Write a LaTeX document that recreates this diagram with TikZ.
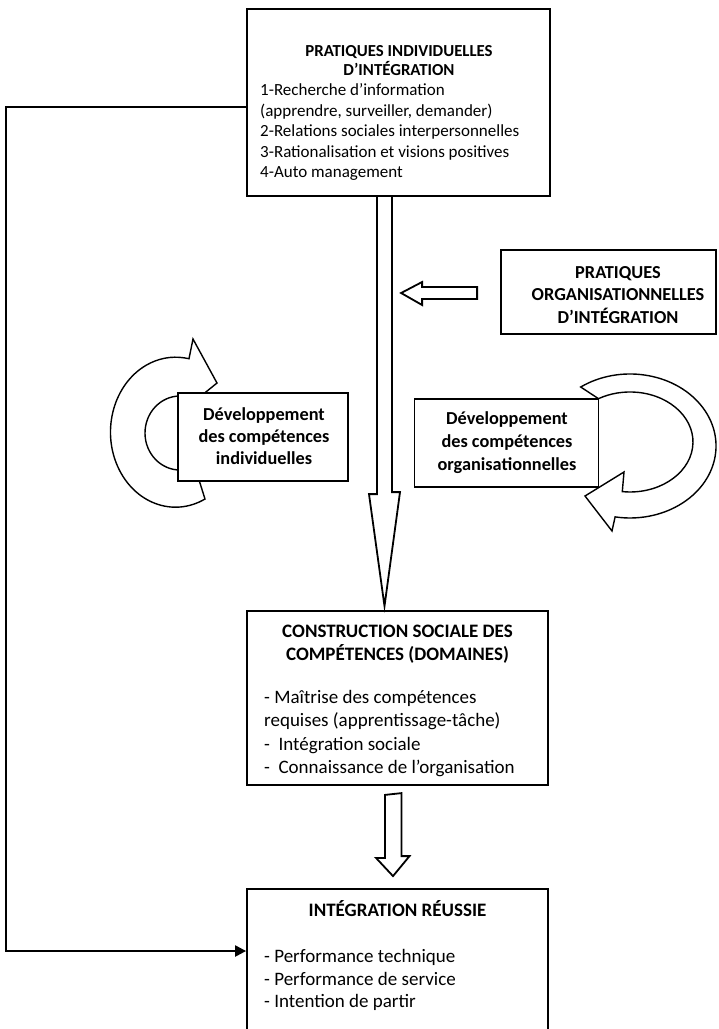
\documentclass[tikz,border=0pt]{standalone}
\usepackage{fontspec}
\setmainfont{Carlito}
\usetikzlibrary{arrows.meta,calc}
\begin{document}
\begin{tikzpicture}[x=1pt,y=-1pt,
  box/.style={draw, line width=1.8pt, fill=white, inner sep=0pt},
  block/.style={draw, line width=1.8pt, fill=white, line join=miter},
  circ/.style={draw, line width=1.4pt, fill=white, line join=miter},
  conn/.style={line width=2.2pt, -{Triangle[length=11pt,width=11pt]}},
  ttlA/.style={font=\bfseries\fontsize{16.8}{19}\selectfont, inner sep=0pt, anchor=base},
  bodyA/.style={font=\fontsize{17}{20.5}\selectfont, inner sep=0pt, anchor=base west},
  ttlB/.style={font=\bfseries\fontsize{18.3}{22}\selectfont, inner sep=0pt, anchor=base},
  ttlC/.style={font=\bfseries\fontsize{19}{23}\selectfont, inner sep=0pt, anchor=base},
  bodyC/.style={font=\fontsize{19}{23}\selectfont, inner sep=0pt, anchor=base west}]
\useasboundingbox (0,0) rectangle (719,1029);

% top box
\node[box, line width=2.2pt, minimum width=303pt, minimum height=187pt] (pi) at (398.5,102.5) {};
\node[ttlA] (pit1) at (399,56.5) {PRATIQUES INDIVIDUELLES};
\node[ttlA] (pit2) at (399,75) {D’INTÉGRATION};
\node[bodyA] (pib1) at (260,95.5) {1-Recherche d’information};
\node[bodyA] (pib2) at (260,116) {(apprendre, surveiller, demander)};
\node[bodyA] (pib3) at (260,136.5) {2-Relations sociales interpersonnelles};
\node[bodyA] (pib4) at (260,157) {3-Rationalisation et visions positives};
\node[bodyA] (pib5) at (260,177.5) {4-Auto management};

% organisational practices box
\node[box, minimum width=215pt, minimum height=84pt] (org) at (608.5,292) {};
\node[ttlB] (orgt1) at (618,278) {PRATIQUES};
\node[ttlB] (orgt2) at (618,300.5) {ORGANISATIONNELLES};
\node[ttlB] (orgt3) at (618,323.5) {D’INTÉGRATION};

% construction box
\node[box, minimum width=301pt, minimum height=174pt] (cs) at (397.5,698) {};
\node[ttlC] (cst1) at (397.5,637.5) {CONSTRUCTION SOCIALE DES};
\node[ttlC] (cst2) at (397.5,660.5) {COMPÉTENCES (DOMAINES)};
\node[bodyC] (csb1) at (264,703) {- Maîtrise des compétences};
\node[bodyC] (csb2) at (264,726.5) {requises (apprentissage-tâche)};
\node[bodyC] (csb3) at (264,750) {-\ \ Intégration sociale};
\node[bodyC] (csb4) at (264,773) {-\ \ Connaissance de l’organisation};

% result box
\node[box, minimum width=301pt, minimum height=146pt] (ri) at (397.5,962) {};
\node[ttlC] (rit) at (397.5,916) {INTÉGRATION RÉUSSIE};
\node[bodyC] (rib1) at (264,962.5) {- Performance technique};
\node[bodyC] (rib2) at (264,985) {- Performance de service};
\node[bodyC] (rib3) at (264,1007.5) {- Intention de partir};

% circular arrows (behind their boxes)
\draw[circ] (189.0,358.7) -- (193,339) -- (217,383) -- (180,413) -- (183.05,396.14)
  arc[start angle=-85, end angle=-295, x radius=35, y radius=37]
  -- (205,499.0)
  arc[start angle=63, end angle=278, x radius=65, y radius=75] -- cycle;
\draw[circ] (580.7,387.0)
  arc[start angle=-125, end angle=100, x radius=86, y radius=72]
  -- (612,531) -- (585,496) -- (624,472) -- (622.3,491.6)
  arc[start angle=97, end angle=-120, x radius=63, y radius=50] -- cycle;

% development boxes
\node[box, minimum width=170pt, minimum height=88pt] (dvi) at (263,437) {};
\node[ttlB] (dvit1) at (264,420.5) {Développement};
\node[ttlB] (dvit2) at (264,442.5) {des compétences};
\node[ttlB] (dvit3) at (264,464.5) {individuelles};
\node[box, minimum width=184pt, minimum height=88pt] (dvo) at (506.5,443) {};
\node[ttlB] (dvot1) at (507,424) {Développement};
\node[ttlB] (dvot2) at (507,447.5) {des compétences};
\node[ttlB] (dvot3) at (507,470.5) {organisationnelles};

% block arrows
\draw[block] ([xshift=-21.5pt]pi.south) -- ++(0,297) -- ++(-8,0)
  -- ([xshift=-13pt,yshift=4pt]cs.north) -- ++(15.5,-114) -- ++(-8,0)
  -- ([xshift=-6.5pt]pi.south);
\draw[block] ([xshift=-12.5pt,yshift=-9pt]cs.south) -- ++(0,63) -- ++(-9,0)
  -- ([xshift=-4.5pt,yshift=12pt]ri.north) -- ++(16.5,-20) -- ++(-8,0)
  -- ++(0,-63) -- cycle;
\draw[block] ([xshift=-23pt,yshift=5pt]org.west) -- ++(-55,0) -- ++(0,-5)
  -- ++(-21,11) -- ++(21,12) -- ++(0,-6) -- ++(55,0) -- cycle;

% feedback connector
\draw[conn] ([yshift=-4.5pt]pi.west) -- ++(-240,0) |- ([yshift=11pt]ri.west);
\end{tikzpicture}
\end{document}
